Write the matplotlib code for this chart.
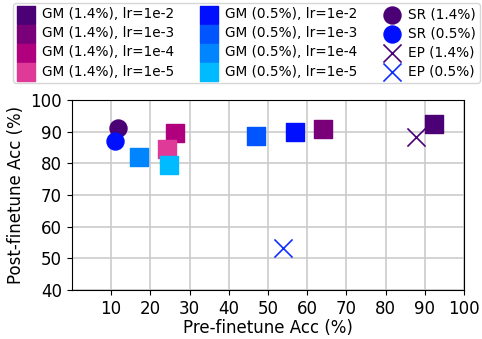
import matplotlib
matplotlib.use("Agg")
import matplotlib.pyplot as plt

# Pre-/post-finetune accuracy (%) for each run
gm14_labels = ["GM (1.4%), lr=1e-2", "GM (1.4%), lr=1e-3", "GM (1.4%), lr=1e-4", "GM (1.4%), lr=1e-5"]
gm14_pre = [92.3, 63.9, 26.2, 24.3]
gm14_post = [92.5, 90.9, 89.7, 84.4]

gm05_labels = ["GM (0.5%), lr=1e-2", "GM (0.5%), lr=1e-3", "GM (0.5%), lr=1e-4", "GM (0.5%), lr=1e-5"]
gm05_pre = [57.0, 46.9, 17.1, 24.8]
gm05_post = [90.0, 88.7, 82.1, 79.5]

sr_labels = ["SR (1.4%)", "SR (0.5%)"]
sr_pre = [11.8, 11.0]
sr_post = [91.3, 87.1]

ep_labels = ["EP (1.4%)", "EP (0.5%)"]
ep_pre = [87.8, 53.8]
ep_post = [88.3, 53.3]

gm14_colors = ["#4b0075", "#7a007a", "#b0007d", "#df3a98"]
gm05_colors = ["#0010ff", "#0055ff", "#0085ff", "#00bbff"]
sr_colors = ["#4b0075", "#0010ff"]
ep_colors = ["#4b0075", "#1030ff"]

fig = plt.figure(figsize=(4.82, 3.39), dpi=100)
ax = fig.add_axes([0.149, 0.145, 0.814, 0.56])

handles = []
for lab, x, y, c in zip(gm14_labels, gm14_pre, gm14_post, gm14_colors):
    handles.append(ax.scatter(x, y, marker="s", s=150, color=c, label=lab, zorder=3))
for lab, x, y, c in zip(gm05_labels, gm05_pre, gm05_post, gm05_colors):
    handles.append(ax.scatter(x, y, marker="s", s=150, color=c, label=lab, zorder=3))
for lab, x, y, c in zip(sr_labels, sr_pre, sr_post, sr_colors):
    handles.append(ax.scatter(x, y, marker="o", s=150, color=c, label=lab, zorder=3))
for lab, x, y, c in zip(ep_labels, ep_pre, ep_post, ep_colors):
    handles.append(ax.scatter(x, y, marker="x", s=170, color=c, linewidths=1.2, label=lab, zorder=3))

ax.set_xlim(0, 100)
ax.set_ylim(40, 100)
ax.set_xticks(range(10, 101, 10))
ax.set_yticks(range(40, 101, 10))
ax.tick_params(labelsize=12)
ax.grid(True, color="#cccccc", linewidth=1.2)
ax.set_axisbelow(True)
ax.set_xlabel("Pre-finetune Acc (%)", fontsize=12, labelpad=1)
ax.set_ylabel("Post-finetune Acc (%)", fontsize=12, labelpad=4)

fig.legend(handles=handles, loc="upper left", mode="expand",
           bbox_to_anchor=(13 / 482, 1 - 86 / 339, 467 / 482, 83 / 339), ncol=3,
           fontsize=9.8, handletextpad=0.5, columnspacing=0.8, labelspacing=0.38,
           borderpad=0.3, handlelength=1.3, borderaxespad=0.0)

fig.savefig("out.png", dpi=100)
